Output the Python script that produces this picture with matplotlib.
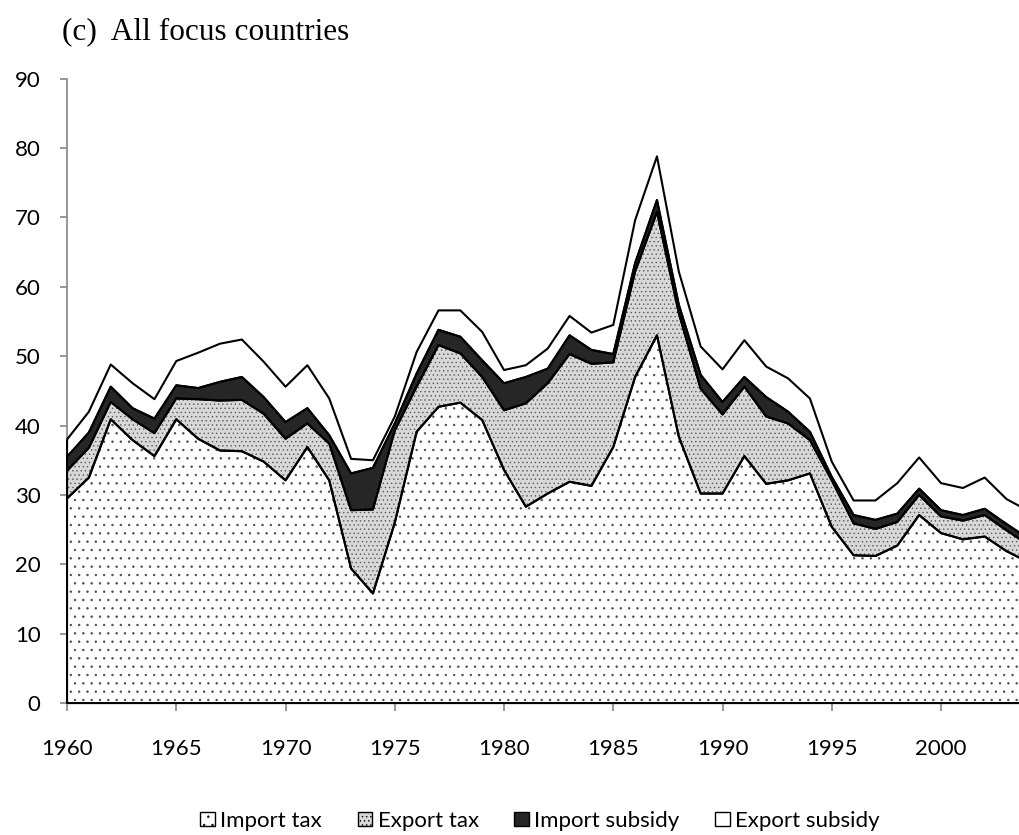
import numpy as np
import matplotlib
matplotlib.use("Agg")
import matplotlib.pyplot as plt
from matplotlib.patches import Patch

years = list(range(1960, 2005))

# values, per series (stacked in this order)
import_tax = [29.5, 32.5, 40.9, 37.9, 35.6, 40.9, 38.1, 36.4, 36.3, 34.8,
              32.1, 36.9, 32.1, 19.4, 15.8, 26.0, 39.1, 42.7, 43.3, 40.8,
              33.6, 28.3, 30.2, 31.9, 31.3, 36.9, 47.0, 53.0, 38.4, 30.2,
              30.2, 35.6, 31.6, 32.1, 33.1, 25.4, 21.3, 21.2, 22.7, 27.1,
              24.5, 23.6, 24.0, 21.9, 20.3]
export_tax = [4.0, 4.3, 2.5, 3.0, 3.3, 3.0, 5.7, 7.2, 7.4, 6.9,
              6.0, 3.4, 5.3, 8.4, 12.1, 13.3, 6.5, 8.9, 7.1, 6.2,
              8.6, 14.9, 15.9, 18.4, 17.6, 12.2, 15.2, 17.8, 17.8, 15.1,
              11.4, 10.0, 9.7, 8.2, 4.8, 6.7, 4.6, 3.9, 3.4, 2.9,
              2.4, 2.7, 3.1, 3.0, 2.5]
import_subsidy = [2.0, 2.2, 2.2, 1.6, 2.1, 1.9, 1.6, 2.7, 3.3, 2.4,
                  2.4, 2.2, 1.2, 5.3, 6.0, 1.0, 1.9, 2.2, 2.4, 2.4,
                  3.9, 3.8, 2.1, 2.7, 2.0, 1.2, 1.2, 1.7, 1.2, 2.0,
                  1.8, 1.4, 2.8, 1.7, 1.2, 0.5, 1.2, 1.3, 1.2, 0.9,
                  0.9, 0.8, 0.9, 0.9, 0.9]
export_subsidy = [2.5, 3.0, 3.2, 3.6, 2.8, 3.5, 5.1, 5.5, 5.4, 5.1,
                  5.1, 6.2, 5.3, 2.1, 1.1, 1.0, 3.1, 2.8, 3.8, 4.1,
                  1.9, 1.7, 2.9, 2.8, 2.5, 4.2, 6.2, 6.3, 4.8, 4.1,
                  4.7, 5.3, 4.4, 4.8, 4.8, 2.2, 2.1, 2.8, 4.4, 4.5,
                  3.9, 3.9, 4.5, 3.6, 4.0]

labels = ["Import tax", "Export tax", "Import subsidy", "Export subsidy"]
faces = ["white", "#d8d8d8", "#262626", "white"]
hatches = ["..", "....", None, None]
hatch_cols = ["#4a4a4a", "#5a5a5a", "#262626", "white"]

plt.rcParams['font.family'] = ['Lato', 'DejaVu Sans']
plt.rcParams['hatch.linewidth'] = 0.5

fig = plt.figure(figsize=(10.19, 8.35), dpi=100)
ax = fig.add_axes([0.0658, 0.158, 0.9342, 0.7478])

series = [import_tax, export_tax, import_subsidy, export_subsidy]
base = np.zeros(len(years))
for vals, fc, h, hc in zip(series, faces, hatches, hatch_cols):
    top = base + np.array(vals)
    # fill with pattern, then the black outline on top
    ax.fill_between(years, base, top, facecolor=fc, edgecolor=hc,
                    hatch=h, linewidth=0, zorder=3, clip_on=False)
    ax.fill_between(years, base, top, facecolor="none", edgecolor="black",
                    linewidth=1.5, zorder=4, clip_on=False)
    base = top

ax.set_xlim(1960, 2003.57)
ax.set_ylim(0, 90)
ax.set_yticks(range(0, 91, 10))
ax.set_xticks(range(1960, 2001, 5))

for side in ["top", "right"]:
    ax.spines[side].set_visible(False)
for side in ["left", "bottom"]:
    ax.spines[side].set_color("#868686")
    ax.spines[side].set_linewidth(1.2)

ax.tick_params(axis="y", length=5, width=1.2, color="#868686",
               labelsize=16, pad=14)
ax.tick_params(axis="x", length=6, width=1.2, color="#868686",
               labelsize=16, pad=20)

fig.text(0.061, 0.962, "(c)  All focus countries", family="Liberation Serif",
         fontsize=22.5, ha="left", va="center")

handles = [Patch(facecolor=fc, edgecolor="black", hatch=h, linewidth=1.0)
           for fc, h in zip(faces, hatches)]
fig.legend(handles, labels, loc="center", bbox_to_anchor=(0.53, 0.017),
           ncol=4, frameon=False, fontsize=16, handlelength=0.65,
           handleheight=0.65, handletextpad=0.25, columnspacing=1.6)

fig.savefig("out.png", dpi=100)
